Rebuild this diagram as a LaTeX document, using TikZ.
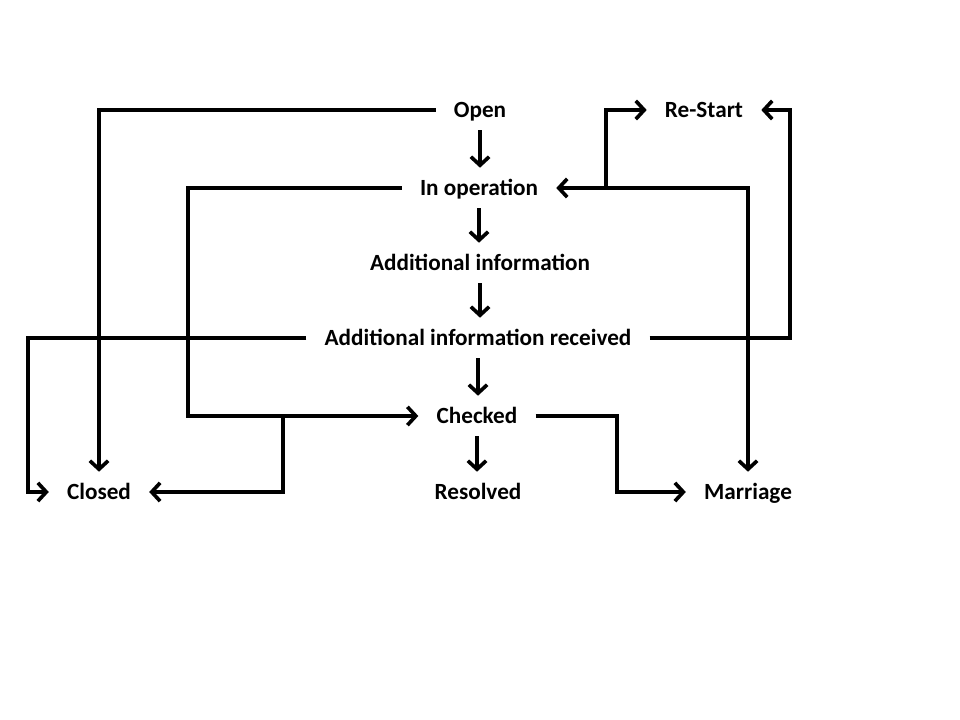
\documentclass[tikz,border=0pt]{standalone}
\usepackage{fontspec}
\setmainfont{Carlito}
\usetikzlibrary{calc,arrows.meta}

\begin{document}
\begin{tikzpicture}[x=0.025cm, y=-0.025cm, font=\fontsize{16.5}{19}\selectfont\bfseries,
    state/.style={inner xsep=0.45cm, inner ysep=0pt, text height=13pt, text depth=2.4pt, minimum height=1cm},
    arr/.style={line width=2.6pt, -{Straight Barb[length=6pt,width=13pt]}},
    arrboth/.style={line width=2.6pt, {Straight Barb[length=6pt,width=13pt]}-{Straight Barb[length=6pt,width=13pt]}}]

%page frame of the diagram
\useasboundingbox (0,0) rectangle (960,720);

%states in the middle column
\node[state] (open)     at (480,110) {Open};
\node[state] (inop)     at (479,188) {In operation};
\node[state] (addinfo)  at (480,263) {Additional information};
\node[state] (air)      at (478,338) {Additional information received};
\node[state] (checked)  at (477,416) {Checked};
\node[state] (resolved) at (478,492) {Resolved};

%outer states
\node[state] (closed)   at (99,492)  {Closed};
\node[state] (marriage) at (748,492) {Marriage};
\node[state] (restart)  at (704,110) {Re-Start};

%straight down the column
\foreach \a/\b in {open/inop, inop/addinfo, addinfo/air, air/checked, checked/resolved} {
    \draw[arr] (\a.south) -- (\a.south |- \b.north);
}

%bends of the routed connectors
\coordinate (c1) at (188,416);     %corner below in operation
\coordinate (j1) at (283,416);     %branch towards closed
\coordinate (c2) at (28,492);      %far left corner
\coordinate (c3) at (790,338);     %far right corner
\coordinate (c4) at (617,454);     %between checked and marriage
\coordinate (j2) at (606,188);     %branch up to re-start

%routed connectors
\draw[arr] (open.west) -| (closed.north);
\draw[arr] (inop.west) -| (c1) -- (checked.west);
\draw[arr] (j1) |- (closed.east);
\draw[arr] (air.west) -| (c2) -- (closed.west);
\draw[arr] (air.east) -- (c3) |- (restart.east);
\draw[arr] (checked.east) -| (c4) |- (marriage.west);
\draw[arrboth] (inop.east) -| (marriage.north);
\draw[arr] (j2) |- (restart.west);

\end{tikzpicture}
\end{document}
